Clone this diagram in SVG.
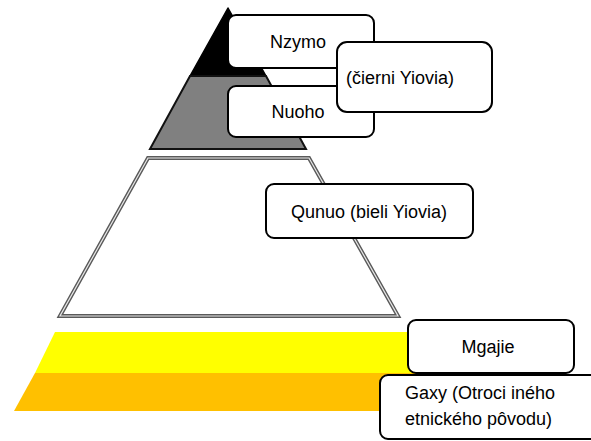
<svg xmlns="http://www.w3.org/2000/svg" width="591" height="441" viewBox="0 0 591 441">
<style>
.box{fill:#fff;stroke:#000;stroke-width:2}
.t{font-family:"Liberation Sans",Arial,sans-serif;font-size:18px;fill:#000}
.c{text-anchor:middle}
</style>
<rect width="591" height="441" fill="#fff"/>
<g id="layers">
<polygon points="228,8 266,76 190,76" fill="#000" stroke="#000" stroke-width="1.5" stroke-linejoin="round"/>
<polygon points="190,76 266,76 306,149 150,149" fill="#808080" stroke="#111" stroke-width="2" stroke-linejoin="miter"/>
<polygon points="148,158 309,158 398,316 60,316" fill="#fff" stroke="#5a5a5a" stroke-width="4"/>
<polygon points="148,158 309,158 398,316 60,316" fill="none" stroke="#e8e8e8" stroke-width="1.2"/>
<polygon points="55,332 420,332 420,373 35,373" fill="#ffff00"/>
<polygon points="35,373 420,373 420,411 14,411" fill="#ffc000"/>
</g>
<g id="nzymo">
<rect class="box" x="228" y="15" width="146" height="53" rx="8"/>
<text class="t c" x="298" y="48">Nzymo</text>
</g>
<g id="nuoho">
<rect class="box" x="228" y="86" width="146" height="51" rx="8"/>
<text class="t c" x="298" y="118">Nuoho</text>
</g>
<g id="cierni">
<rect class="box" x="337" y="42" width="155" height="70" rx="10"/>
<text class="t c" x="400" y="84">(čierni Yiovia)</text>
</g>
<g id="qunuo">
<rect class="box" x="266" y="184" width="207" height="54" rx="8"/>
<text class="t c" x="369" y="218">Qunuo (bieli Yiovia)</text>
</g>
<g id="mgajie">
<rect class="box" x="408" y="320" width="166" height="53" rx="8"/>
<text class="t c" x="488" y="353">Mgajie</text>
</g>
<g id="gaxy">
<rect class="box" x="380" y="375" width="220" height="64" rx="8"/>
<text class="t" x="405" y="399">Gaxy (Otroci iného</text>
<text class="t" x="405" y="425">etnického pôvodu)</text>
</g>
<g id="connectors"></g>
</svg>
